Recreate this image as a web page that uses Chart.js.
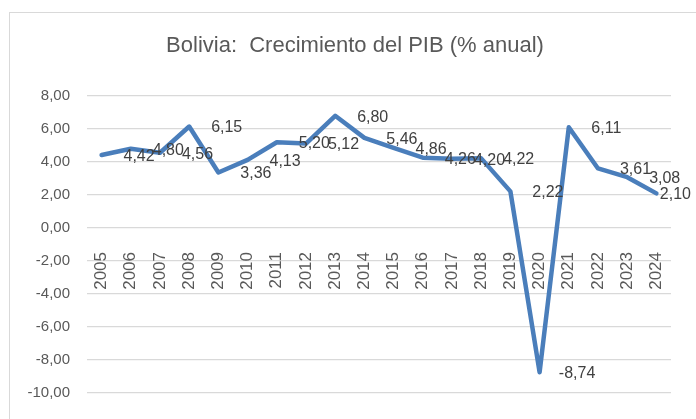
<!DOCTYPE html>
<html>
<head>
<meta charset="utf-8">
<script src="https://cdn.jsdelivr.net/npm/chart.js@4.4.1/dist/chart.umd.min.js"></script>
<style>
  html, body { margin: 0; padding: 0; background: #ffffff; }
  #wrap { position: relative; width: 696px; height: 419px; overflow: hidden; }
  #frame { position: absolute; left: 9px; top: 12px; width: 720px; height: 440px;
           border-left: 1px solid #d9d9d9; border-top: 1px solid #d9d9d9; pointer-events: none; }
  canvas { position: absolute; left: 0; top: 0; }
</style>
</head>
<body>
<div id="wrap">
  <div id="frame"></div>
  <canvas id="c" width="696" height="419"></canvas>
</div>
<script>
// ---- Data ----
const years = ['2005','2006','2007','2008','2009','2010','2011','2012','2013','2014',
               '2015','2016','2017','2018','2019','2020','2021','2022','2023','2024'];
const growth = [4.42, 4.80, 4.56, 6.15, 3.36, 4.13, 5.20, 5.12, 6.80, 5.46,
                4.86, 4.26, 4.20, 4.22, 2.22, -8.74, 6.11, 3.61, 3.08, 2.10];
const titleText = 'Bolivia:  Crecimiento del PIB (% anual)';
const yMin = -10, yMax = 8, yStep = 2;

const fmt = v => v.toFixed(2).replace('.', ',');
const FONT = "'Liberation Sans', Arial, sans-serif";

const labelPlugin = {
  id: 'valueLabels',
  afterDatasetsDraw(chart) {
    const ctx = chart.ctx;
    const meta = chart.getDatasetMeta(0);
    ctx.save();
    ctx.font = "16px " + FONT;
    ctx.fillStyle = '#404040';
    ctx.textAlign = 'center';
    ctx.textBaseline = 'middle';
    meta.data.forEach((pt, i) => {
      const txt = fmt(growth[i]);
      const w = ctx.measureText(txt).width;
      let x = pt.x + 37.5;
      x = Math.min(x, 691 - w / 2);
      ctx.fillText(txt, x, pt.y + 1.5);
    });
    ctx.restore();
  }
};

const titlePlugin = {
  id: 'fixedTitle',
  afterDraw(chart) {
    const ctx = chart.ctx;
    ctx.save();
    ctx.font = "22px " + FONT;
    ctx.fillStyle = '#595959';
    ctx.textAlign = 'center';
    ctx.textBaseline = 'middle';
    ctx.fillText(titleText, 355, 46);
    ctx.restore();
  }
};

new Chart(document.getElementById('c'), {
  type: 'line',
  data: {
    labels: years,
    datasets: [{
      data: growth,
      borderColor: '#4a7ebb',
      backgroundColor: '#4a7ebb',
      borderWidth: 4.5,
      borderCapStyle: 'round',
      borderJoinStyle: 'round',
      pointRadius: 0,
      pointHoverRadius: 0,
      tension: 0,
      fill: false
    }]
  },
  options: {
    responsive: false,
    devicePixelRatio: 1,
    animation: false,
    layout: { padding: { top: 96, left: 9, right: 25, bottom: 22 } },
    plugins: {
      legend: { display: false },
      tooltip: { enabled: false },
      title: { display: false }
    },
    scales: {
      x: {
        type: 'category',
        offset: true,
        position: { y: 0 },
        afterFit: s => { s.height = 0; },
        grid: { display: false },
        border: { display: false },
        ticks: {
          autoSkip: false,
          minRotation: 90,
          maxRotation: 90,
          padding: 16,
          color: '#595959',
          font: { family: FONT, size: 17 }
        }
      },
      y: {
        min: yMin,
        max: yMax,
        afterFit: s => { s.width = 78; },
        grid: { color: '#d9d9d9', lineWidth: 1.3, drawTicks: false },
        border: { display: false },
        ticks: {
          stepSize: yStep,
          padding: 17,
          color: '#595959',
          font: { family: FONT, size: 15 },
          callback: v => fmt(v)
        }
      }
    }
  },
  plugins: [labelPlugin, titlePlugin]
});
</script>
</body>
</html>
